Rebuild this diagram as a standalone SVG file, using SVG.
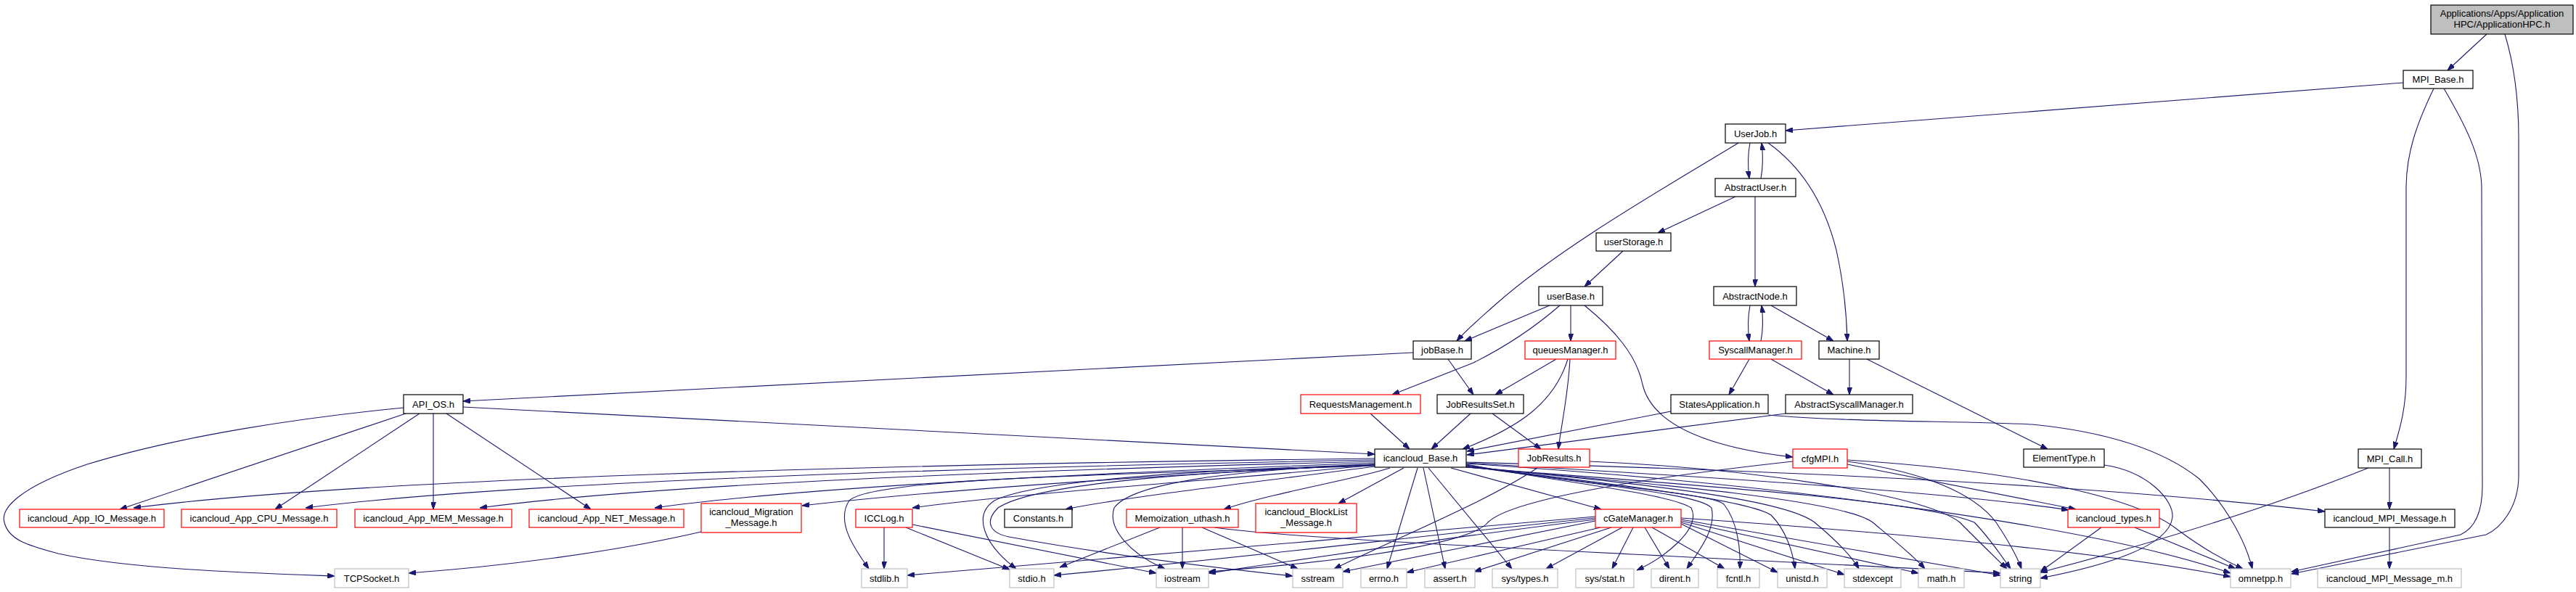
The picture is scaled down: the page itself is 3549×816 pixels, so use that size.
<svg xmlns="http://www.w3.org/2000/svg" width="3549" height="816" viewBox="0 0 3549 816">
<style>
.n rect{fill:#fff;stroke:#000;stroke-width:1.2}
.red rect{stroke:#ff0000}
.ext rect{stroke:#bfbfbf}
.root rect{fill:#bfbfbf}
text{font-family:'Liberation Sans',Arial,sans-serif;font-size:13px;text-anchor:middle;fill:#000}
#edges path{fill:none;stroke:#191970;stroke-width:1.1;marker-end:url(#a)}
</style>
<defs>
<marker id="a" viewBox="0 0 10 7" refX="10" refY="3.5" markerWidth="10" markerHeight="7" markerUnits="userSpaceOnUse" orient="auto"><path d="M0,0L10,3.5L0,7z" fill="#191970" stroke="#191970"/></marker>
</defs>
<rect width="3549" height="816" fill="#fff"/>
<g id="edges">
<path d="M3426,47 L3372,97"/>
<path d="M3451,47 C3464,90 3470,140 3470,190 L3470,655 C3470,700 3445,728 3425,737 L3157,791"/>
<path d="M3311,114 L2460,180"/>
<path d="M3353,122 C3330,170 3315,210 3315,260 L3315,520 C3315,565 3305,595 3298,619"/>
<path d="M3367,122 C3395,170 3419,215 3419,260 L3420,670 C3420,712 3405,730 3390,737 L3157,788"/>
<path d="M2411,197 C2408,212 2408,230 2410,246"/>
<path d="M2426,246 C2429,230 2429,213 2427,197"/>
<path d="M2395,197 C2300,255 2150,340 2060,420 C2040,438 2020,455 2007,470"/>
<path d="M2436,197 C2485,232 2515,285 2530,345 C2540,390 2544,430 2545,470"/>
<path d="M2391,271 L2284,321"/>
<path d="M2418,271 L2418,395"/>
<path d="M2236,346 L2183,395"/>
<path d="M2135,421 L2018,470"/>
<path d="M2164,421 L2164,470"/>
<path d="M2149,421 C2110,455 2070,480 2030,500 L1918,544"/>
<path d="M2183,421 C2225,455 2255,490 2263,530 C2275,580 2340,615 2470,630"/>
<path d="M2411,421 C2408,437 2408,455 2410,470"/>
<path d="M2426,470 C2429,455 2429,437 2427,421"/>
<path d="M2440,421 L2526,470"/>
<path d="M2410,495 L2382,544"/>
<path d="M2440,495 L2526,544"/>
<path d="M2548,495 L2548,544"/>
<path d="M2572,495 L2821,619"/>
<path d="M1947,486 L638,553"/>
<path d="M1995,495 L2030,544"/>
<path d="M2144,495 L2060,544"/>
<path d="M2160,495 C2140,560 2085,592 2015,619"/>
<path d="M2163,495 C2160,550 2150,590 2147,619"/>
<path d="M1888,570 L1942,619"/>
<path d="M2026,570 L1972,619"/>
<path d="M2056,570 L2123,619"/>
<path d="M2302,567 L2021,622"/>
<path d="M2460,570 L2021,627"/>
<path d="M2436,572 C2550,582 2700,580 2800,585 C2900,595 2980,620 3030,660 C3070,700 3095,750 3103,784"/>
<path d="M638,561 L1894,626"/>
<path d="M559,570 L165,702"/>
<path d="M578,570 L379,702"/>
<path d="M597,570 L597,702"/>
<path d="M615,570 L814,702"/>
<path d="M556,562 C420,575 250,600 120,640 C30,670 0,700 6,720 C12,745 40,752 80,763 C180,785 350,790 461,794"/>
<path d="M966,733 C850,760 700,780 563,790"/>
<path d="M1894,632 C1200,640 500,660 184,700"/>
<path d="M1894,634 C1300,645 700,665 421,700"/>
<path d="M1894,636 C1400,648 900,668 661,700"/>
<path d="M1894,638 C1500,652 1100,672 902,700"/>
<path d="M1894,640 C1600,655 1300,675 1105,697"/>
<path d="M1894,641 C1700,660 1400,680 1257,700"/>
<path d="M1894,643 C1750,662 1550,685 1468,702"/>
<path d="M1915,645 C1870,660 1750,680 1686,702"/>
<path d="M1934,645 L1844,694"/>
<path d="M1894,642 C1500,655 1200,660 1170,690 C1150,720 1180,760 1197,784"/>
<path d="M1894,640 C1600,650 1420,665 1370,690 C1340,710 1355,750 1400,784"/>
<path d="M1894,640 C1700,648 1560,665 1535,700 C1525,730 1560,765 1605,784"/>
<path d="M1894,641 C1600,652 1420,670 1375,700 C1355,720 1365,735 1390,740 C1500,760 1650,780 1781,794"/>
<path d="M1953,645 L1911,784"/>
<path d="M1961,645 L1991,784"/>
<path d="M1968,645 L2083,784"/>
<path d="M1999,645 L2206,702"/>
<path d="M2020,640 C2150,665 2300,680 2330,700 C2345,730 2290,770 2255,786"/>
<path d="M2020,641 C2200,670 2340,680 2358,700 C2365,730 2340,760 2324,784"/>
<path d="M2020,642 C2200,670 2360,680 2375,695 C2395,720 2398,760 2397,784"/>
<path d="M2020,643 C2250,670 2410,690 2440,710 C2460,730 2470,760 2473,784"/>
<path d="M2020,643 C2300,670 2460,690 2500,720 C2530,745 2550,765 2561,784"/>
<path d="M2020,644 C2300,668 2540,690 2580,720 C2610,745 2635,765 2652,784"/>
<path d="M2020,644 C2350,670 2650,690 2720,720 C2740,740 2760,770 2770,784"/>
<path d="M2020,638 C2400,660 2700,680 2850,703"/>
<path d="M2020,637 C2500,650 2900,670 3203,705"/>
<path d="M2020,639 C2500,670 2900,730 3073,790"/>
<path d="M2198,712 C1900,740 1500,770 1250,793"/>
<path d="M2198,714 C1900,745 1700,770 1452,793"/>
<path d="M2198,716 C2000,740 1800,770 1665,790"/>
<path d="M2198,718 L1850,788"/>
<path d="M2205,727 L1938,789"/>
<path d="M2220,727 L2031,788"/>
<path d="M2235,727 L2130,784"/>
<path d="M2250,727 L2221,784"/>
<path d="M2266,727 L2300,784"/>
<path d="M2276,727 L2376,784"/>
<path d="M2316,722 L2449,789"/>
<path d="M2316,720 L2541,792"/>
<path d="M2316,718 L2643,790"/>
<path d="M2316,716 L2756,793"/>
<path d="M2316,714 C2700,740 2950,770 3073,795"/>
<path d="M1598,727 L1460,782"/>
<path d="M1629,727 L1629,784"/>
<path d="M1656,727 L1788,784"/>
<path d="M1673,727 C1800,745 2200,760 2756,790"/>
<path d="M1218,727 L1218,784"/>
<path d="M1248,727 L1391,785"/>
<path d="M1257,723 L1593,790"/>
<path d="M2118,645 C2050,690 1950,730 1838,784"/>
<path d="M2190,636 C2400,645 2650,680 2700,720 C2730,750 2750,770 2765,784"/>
<path d="M2545,640 L2860,702"/>
<path d="M2545,636 C2650,650 2720,680 2750,720 C2770,750 2780,770 2785,784"/>
<path d="M2545,634 C2800,650 2950,690 3000,730 C3040,760 3070,775 3090,784"/>
<path d="M2470,636 C2250,660 2080,690 2050,720 C2030,745 1900,770 1665,788"/>
<path d="M2895,727 L2811,788"/>
<path d="M2941,727 L3080,784"/>
<path d="M2899,641 C2960,650 2995,690 2993,713 C2990,740 2950,770 2811,797"/>
<path d="M3292,645 L3292,702"/>
<path d="M3263,645 C3150,690 3000,740 2811,789"/>
<path d="M3292,727 L3292,784"/>
</g>
<g id="n1" class="n root"><rect x="3349" y="7" width="196" height="40"/><text x="3447" y="23">Applications/Apps/Application</text><text x="3447" y="38">HPC/ApplicationHPC.h</text></g>
<g id="n2" class="n"><rect x="3311" y="97" width="96" height="25"/><text x="3359" y="114">MPI_Base.h</text></g>
<g id="n3" class="n"><rect x="2377" y="171" width="83" height="26"/><text x="2418.5" y="188.5">UserJob.h</text></g>
<g id="n4" class="n"><rect x="2363" y="246" width="111" height="25"/><text x="2418.5" y="263">AbstractUser.h</text></g>
<g id="n5" class="n"><rect x="2199" y="321" width="103" height="25"/><text x="2250.5" y="338">userStorage.h</text></g>
<g id="n6" class="n"><rect x="2120" y="395" width="88" height="26"/><text x="2164" y="412.5">userBase.h</text></g>
<g id="n7" class="n"><rect x="2361" y="395" width="114" height="26"/><text x="2418" y="412.5">AbstractNode.h</text></g>
<g id="n8" class="n"><rect x="1947" y="470" width="80" height="25"/><text x="1987" y="487">jobBase.h</text></g>
<g id="n9" class="n red"><rect x="2101" y="470" width="125" height="25"/><text x="2163.5" y="487">queuesManager.h</text></g>
<g id="n10" class="n red"><rect x="2355" y="470" width="127" height="25"/><text x="2418.5" y="487">SyscallManager.h</text></g>
<g id="n11" class="n"><rect x="2506" y="470" width="83" height="25"/><text x="2547.5" y="487">Machine.h</text></g>
<g id="n12" class="n"><rect x="556" y="544" width="82" height="26"/><text x="597" y="561.5">API_OS.h</text></g>
<g id="n13" class="n red"><rect x="1792" y="544" width="165" height="26"/><text x="1874.5" y="561.5">RequestsManagement.h</text></g>
<g id="n14" class="n"><rect x="1980" y="544" width="119" height="26"/><text x="2039.5" y="561.5">JobResultsSet.h</text></g>
<g id="n15" class="n"><rect x="2302" y="544" width="134" height="26"/><text x="2369" y="561.5">StatesApplication.h</text></g>
<g id="n16" class="n"><rect x="2460" y="544" width="175" height="26"/><text x="2547.5" y="561.5">AbstractSyscallManager.h</text></g>
<g id="n17" class="n"><rect x="1894" y="619" width="126" height="25"/><text x="1957" y="636">icancloud_Base.h</text></g>
<g id="n18" class="n red"><rect x="2092" y="619" width="98" height="25"/><text x="2141" y="636">JobResults.h</text></g>
<g id="n19" class="n red"><rect x="2470" y="619" width="75" height="26"/><text x="2507.5" y="636.5">cfgMPI.h</text></g>
<g id="n20" class="n"><rect x="2788" y="619" width="111" height="25"/><text x="2843.5" y="636">ElementType.h</text></g>
<g id="n21" class="n"><rect x="3249" y="619" width="87" height="26"/><text x="3292.5" y="636.5">MPI_Call.h</text></g>
<g id="n22" class="n red"><rect x="27" y="702" width="199" height="25"/><text x="126.5" y="719">icancloud_App_IO_Message.h</text></g>
<g id="n23" class="n red"><rect x="250" y="702" width="214" height="25"/><text x="357" y="719">icancloud_App_CPU_Message.h</text></g>
<g id="n24" class="n red"><rect x="489" y="702" width="216" height="25"/><text x="597" y="719">icancloud_App_MEM_Message.h</text></g>
<g id="n25" class="n red"><rect x="729" y="702" width="213" height="25"/><text x="835.5" y="719">icancloud_App_NET_Message.h</text></g>
<g id="n26" class="n red"><rect x="966" y="694" width="138" height="40"/><text x="1035" y="710">icancloud_Migration</text><text x="1035" y="725">_Message.h</text></g>
<g id="n27" class="n red"><rect x="1179" y="702" width="78" height="25"/><text x="1218" y="719">ICCLog.h</text></g>
<g id="n28" class="n"><rect x="1384" y="702" width="93" height="25"/><text x="1430.5" y="719">Constants.h</text></g>
<g id="n29" class="n red"><rect x="1552" y="702" width="154" height="25"/><text x="1629" y="719">Memoization_uthash.h</text></g>
<g id="n30" class="n red"><rect x="1730" y="694" width="139" height="40"/><text x="1799.5" y="710">icancloud_BlockList</text><text x="1799.5" y="725">_Message.h</text></g>
<g id="n31" class="n red"><rect x="2198" y="702" width="118" height="25"/><text x="2257" y="719">cGateManager.h</text></g>
<g id="n32" class="n red"><rect x="2849" y="702" width="126" height="25"/><text x="2912" y="719">icancloud_types.h</text></g>
<g id="n33" class="n"><rect x="3203" y="702" width="179" height="25"/><text x="3292.5" y="719">icancloud_MPI_Message.h</text></g>
<g id="n34" class="n ext"><rect x="461" y="784" width="102" height="26"/><text x="512" y="801.5">TCPSocket.h</text></g>
<g id="n35" class="n ext"><rect x="1187" y="784" width="63" height="26"/><text x="1218.5" y="801.5">stdlib.h</text></g>
<g id="n36" class="n ext"><rect x="1391" y="784" width="61" height="26"/><text x="1421.5" y="801.5">stdio.h</text></g>
<g id="n37" class="n ext"><rect x="1593" y="784" width="72" height="26"/><text x="1629" y="801.5">iostream</text></g>
<g id="n38" class="n ext"><rect x="1781" y="784" width="69" height="26"/><text x="1815.5" y="801.5">sstream</text></g>
<g id="n39" class="n ext"><rect x="1875" y="784" width="63" height="26"/><text x="1906.5" y="801.5">errno.h</text></g>
<g id="n40" class="n ext"><rect x="1963" y="784" width="69" height="26"/><text x="1997.5" y="801.5">assert.h</text></g>
<g id="n41" class="n ext"><rect x="2056" y="784" width="90" height="26"/><text x="2101" y="801.5">sys/types.h</text></g>
<g id="n42" class="n ext"><rect x="2171" y="784" width="80" height="26"/><text x="2211" y="801.5">sys/stat.h</text></g>
<g id="n43" class="n ext"><rect x="2275" y="784" width="65" height="26"/><text x="2307.5" y="801.5">dirent.h</text></g>
<g id="n44" class="n ext"><rect x="2366" y="784" width="58" height="26"/><text x="2395" y="801.5">fcntl.h</text></g>
<g id="n45" class="n ext"><rect x="2449" y="784" width="68" height="26"/><text x="2483" y="801.5">unistd.h</text></g>
<g id="n46" class="n ext"><rect x="2541" y="784" width="78" height="26"/><text x="2580" y="801.5">stdexcept</text></g>
<g id="n47" class="n ext"><rect x="2643" y="784" width="63" height="26"/><text x="2674.5" y="801.5">math.h</text></g>
<g id="n48" class="n ext"><rect x="2756" y="784" width="55" height="26"/><text x="2783.5" y="801.5">string</text></g>
<g id="n49" class="n ext"><rect x="3073" y="784" width="83" height="26"/><text x="3114.5" y="801.5">omnetpp.h</text></g>
<g id="n50" class="n ext"><rect x="3193" y="784" width="198" height="26"/><text x="3292" y="801.5">icancloud_MPI_Message_m.h</text></g>
</svg>
